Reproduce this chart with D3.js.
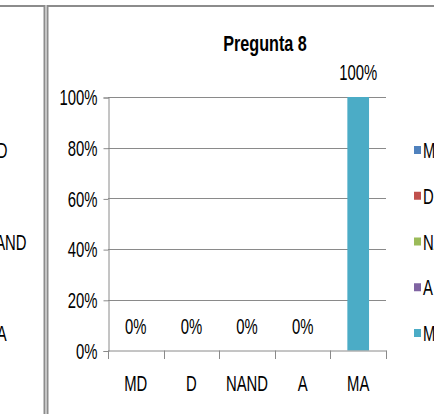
<!DOCTYPE html>
<html><head><meta charset="utf-8">
<script src="https://cdn.jsdelivr.net/npm/d3@7"></script>
<style>
html,body{margin:0;padding:0;background:#fff;overflow:hidden}
text{font-family:"Liberation Sans",Arial,sans-serif;fill:#000}
</style></head>
<body><svg id="c" width="434" height="414"></svg>
<script>
const categories = ["MD","D","NAND","A","MA"];
const values = [0,0,0,0,1];
const yTicks = [0,0.2,0.4,0.6,0.8,1];
const colors = ["#4f81bd","#c0504d","#9bbb59","#8064a2","#4bacc6"];
const title = "Pregunta 8";

const SX = 0.66, FS = 22.5;
const svg = d3.select("#c");
const fmt = d3.format(".0%");

function ntext(g, x, y, s, anchor, size, bold, sx){
  const t = g.append("text")
    .attr("transform", `translate(${x},${y}) scale(${sx||SX},1)`)
    .attr("text-anchor", anchor||"start")
    .attr("font-size", size||FS)
    .text(s);
  if (bold) t.attr("font-weight","bold");
  return t;
}

// chart frames
svg.append("rect").attr("x",-100).attr("y",6).attr("width",144.5).attr("height",500)
  .attr("fill","#fff").attr("stroke","#8c8c8c").attr("stroke-width",2);
svg.append("rect").attr("x",47.5).attr("y",6).attr("width",500).attr("height",500)
  .attr("fill","#fff").attr("stroke","#8c8c8c").attr("stroke-width",2);

// left chart (cut-off) legend
const legY = d3.scalePoint().domain(categories).range([150,333]);
const leftLeg = svg.append("g");
categories.forEach((c,i)=>{
  leftLeg.append("rect").attr("x",-26).attr("y",legY(c)-4).attr("width",7).attr("height",7).attr("fill",colors[i]);
  ntext(leftLeg, -15.5, legY(c)+8, c);
});

const x = d3.scaleBand().domain(categories).range([108,386]).padding(0);
const y = d3.scaleLinear().domain([0,1]).range([350.5,97]);

// gridlines
svg.append("g").selectAll("line").data(yTicks.filter(d=>d>0)).join("line")
  .attr("x1",108).attr("x2",386).attr("y1",d=>Math.round(y(d))+0.5).attr("y2",d=>Math.round(y(d))+0.5)
  .attr("stroke","#8a8a8a").attr("stroke-width",1);

// y axis
const ya = svg.append("g").attr("transform","translate(108.5,0.5)")
  .call(d3.axisLeft(y).tickValues(yTicks).tickFormat(fmt).tickSize(5).tickPadding(6));
ya.select(".domain").attr("stroke","#8a8a8a");
ya.selectAll(".tick line").attr("stroke","#8a8a8a");
ya.selectAll(".tick text").attr("font-size",FS).attr("font-family",null).attr("fill","#000")
  .attr("x", -11/SX).attr("transform",`scale(${SX},1)`);

// bars
const bw = x.bandwidth()*0.39;
svg.append("g").selectAll("rect").data(categories).join("rect")
  .attr("x",d=>x(d)+x.bandwidth()/2-bw/2).attr("width",bw)
  .attr("y",(d,i)=>y(values[i])).attr("height",(d,i)=>y(0)-y(values[i]))
  .attr("fill",(d,i)=>colors[i]);

// x axis
const xa = svg.append("g").attr("transform","translate(0,350.5)")
  .call(d3.axisBottom(x).tickSize(0).tickPadding(24.5));
xa.select(".domain").attr("stroke","#8a8a8a");
xa.selectAll(".tick text").attr("font-size",FS).attr("font-family",null).attr("fill","#000")
  .attr("transform",`scale(${SX},1)`);
const bounds = [108].concat(categories.map(d=>x(d)+x.bandwidth()));
svg.append("g").selectAll("line").data(bounds).join("line")
  .attr("x1",d=>Math.round(d)+0.5).attr("x2",d=>Math.round(d)+0.5)
  .attr("y1",350.5).attr("y2",359).attr("stroke","#8a8a8a");

// data labels
const dl = svg.append("g");
categories.forEach((c,i)=>{
  ntext(dl, x(c)+x.bandwidth()/2, y(values[i])-25+8, fmt(values[i]), "middle");
});

// title
ntext(svg, 265, 51, title, "middle", 22.5, true, 0.72);

// legend
const lg = svg.append("g");
categories.forEach((c,i)=>{
  lg.append("rect").attr("x",414).attr("y",legY(c)-4).attr("width",7).attr("height",8).attr("fill",colors[i]);
  ntext(lg, 423, legY(c)+8, c);
});
</script></body></html>
